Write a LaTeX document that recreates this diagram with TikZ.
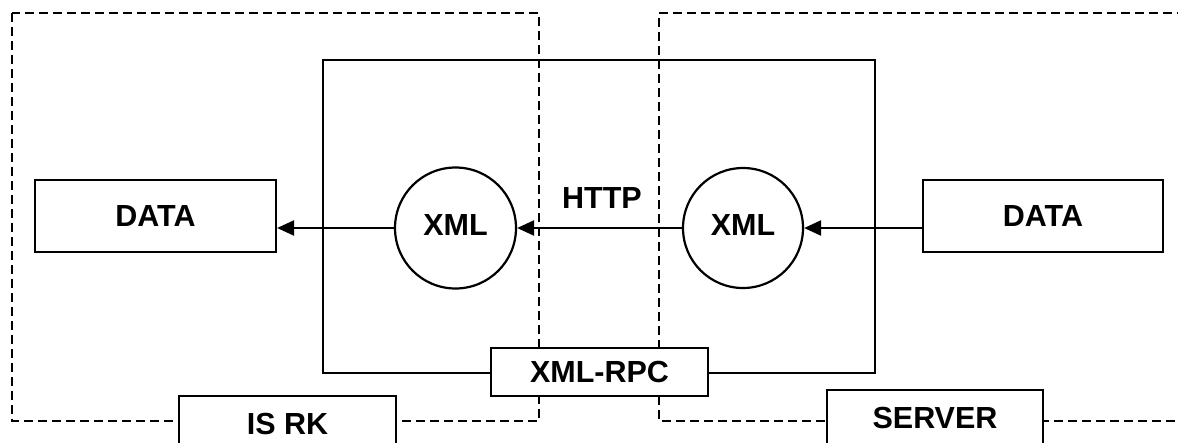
\documentclass[tikz,border=0pt]{standalone}
\usepackage{fontspec}
\setmainfont{Liberation Sans}
\usetikzlibrary{arrows.meta}
\begin{document}
\begin{tikzpicture}[x=1pt,y=-1pt, line width=2.2pt,
  lbl/.style={font=\bfseries\fontsize{30.5}{32}\selectfont, inner sep=0pt},
  box/.style={lbl, draw, fill=white},
  dsh/.style={dash pattern=on 9pt off 5pt},
  arr/.style={-{Triangle[length=17pt,width=15pt]}}]
\useasboundingbox (0,0) rectangle (1178,442);
\clip (0,0) rectangle (1178,442);
% dashed frames
\draw[dsh] (12,13) rectangle (539,421);
\draw[dsh] (1200,13) -- (659,13) -- (659,421) -- (1200,421);
% solid frame
\draw (323,60) rectangle (875,373);
% nodes
\node[box, minimum width=241, minimum height=72] (dataL) at (155.5,216) {DATA};
\node[box, minimum width=240, minimum height=72] (dataR) at (1043,216) {DATA};
\node[box, circle, minimum size=121] (xmlL) at (455.5,228) {\raisebox{5pt}{XML}};
\node[box, circle, minimum size=120] (xmlR) at (743,228) {\raisebox{5pt}{XML}};
\node[lbl] (http) at (602,198) {HTTP};
\node[box, minimum width=217, minimum height=48] (rpc) at (599.5,372) {XML-RPC};
\node[box, minimum width=217, minimum height=56] (isrk) at (287.5,424) {IS RK};
\node[box, minimum width=216, minimum height=56] (server) at (935,418) {SERVER};
% arrows
\draw[arr] (dataR.west |- xmlR.east) -- (xmlR.east);
\draw[arr] (xmlR.west) -- (xmlL.east);
\draw[arr] (xmlL.west) -- (dataL.east |- xmlL.west);
\end{tikzpicture}
\end{document}
